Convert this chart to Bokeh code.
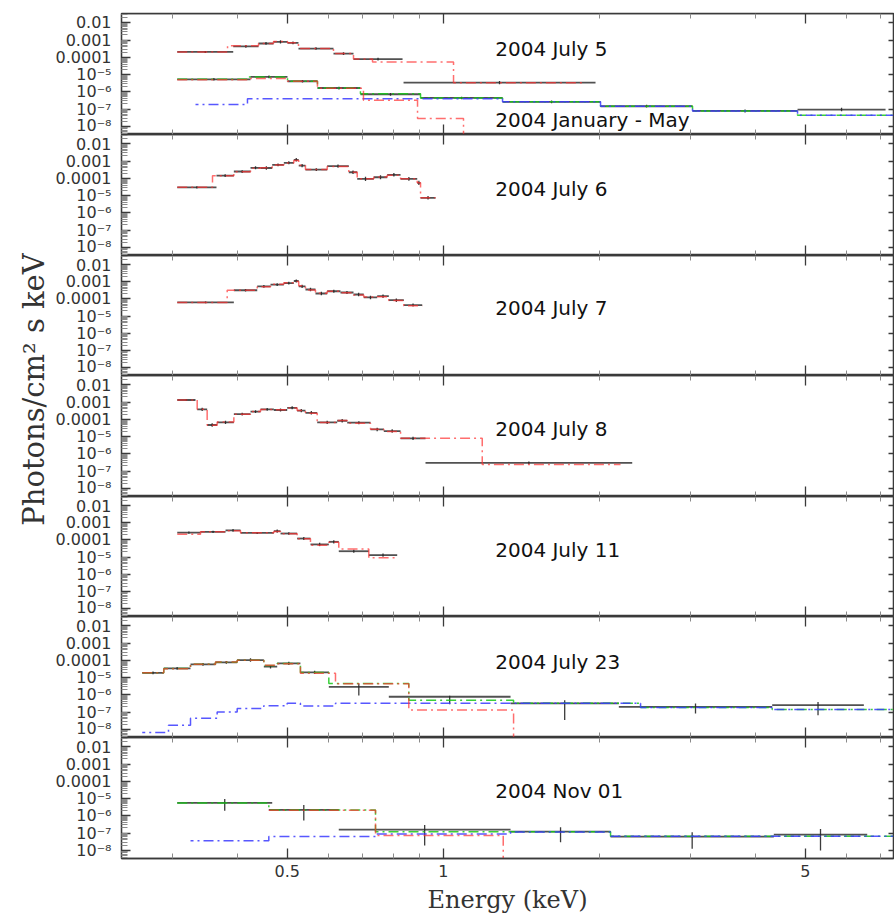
import math
from bokeh.plotting import figure
from bokeh.models import Range1d, LogAxis, FixedTicker, Label
from bokeh.layouts import row, column
from bokeh.embed import file_html
from bokeh.resources import INLINE

# ---------------- ticks ----------------
x_ticks = [0.5, 1, 5]
x_tick_labels = ["0.5", "1", "5"]
x_minor_ticks = [0.3, 0.4, 0.6, 0.7, 0.8, 0.9, 2, 3, 4, 6, 7]
y_ticks = [1e-8, 1e-7, 1e-6, 1e-5, 1e-4, 1e-3, 1e-2]
y_tick_labels = ["10⁻⁸", "10⁻⁷", "10⁻⁶", "10⁻⁵", "0.0001", "0.001", "0.01"]

# ---------------- panel 1 : 2004 July 5 ----------------
jul05_lo = [0.3066, 0.3932, 0.4400, 0.4703, 0.5005, 0.5255, 0.6140, 0.6711, 0.8383]
jul05_hi = [0.3932, 0.4400, 0.4703, 0.5005, 0.5255, 0.6140, 0.6711, 0.8346, 1.9679]
jul05_flux = [2.06e-4, 4.4e-4, 6.4e-4, 7.9e-4, 6.9e-4, 3.25e-4, 1.66e-4, 7.8e-5, 3.4e-6]
jul05_err = [0.06, 0.08, 0.08, 0.09, 0.08, 0.07, 0.08, 0.08, 0.1]
jul05_red_edges = [0.3066, 0.3834, 0.4400, 0.4703, 0.5005, 0.5255, 0.6140, 0.6711, 0.7303, 1.0469, 1.8659]
jul05_red = [2.06e-4, 4.8e-4, 6.4e-4, 8.2e-4, 7.0e-4, 3.3e-4, 1.7e-4, 8.0e-5, 5.4e-5, 3.4e-6]

# ---------------- panel 1 : 2004 January - May ----------------
janmay_lo = [0.3066, 0.4246, 0.5005, 0.5718, 0.6922, 0.9041, 1.3017, 2.0123, 3.0289, 4.8306]
janmay_hi = [0.4246, 0.5005, 0.5718, 0.6922, 0.9041, 1.3017, 2.0123, 3.0289, 4.8306, 7.1432]
janmay_flux = [5.3e-6, 7.3e-6, 4.1e-6, 1.66e-6, 7.2e-7, 4.4e-7, 2.6e-7, 1.45e-7, 7.7e-8, 9.3e-8]
janmay_err = [0.07, 0.08, 0.07, 0.08, 0.08, 0.07, 0.08, 0.08, 0.09, 0.1]
janmay_green_edges = [0.3066, 0.4189, 0.5005, 0.5718, 0.6922, 0.9041, 1.3017, 2.0123, 3.0289, 4.8306, 7.40]
janmay_green = [5.3e-6, 7.3e-6, 4.1e-6, 1.66e-6, 7.8e-7, 4.4e-7, 2.6e-7, 1.45e-7, 7.7e-8, 4.3e-8]
janmay_blue_edges = [0.3325, 0.4189, 1.3017, 2.0123, 3.0289, 4.8306, 7.40]
janmay_blue = [1.8e-7, 4.0e-7, 2.6e-7, 1.45e-7, 7.7e-8, 4.3e-8]
janmay_red_edges = [0.3066, 0.4246, 0.5005, 0.5718, 0.7015, 0.8921, 1.0944, 1.2]
janmay_red = [5.0e-6, 6.0e-6, 4.1e-6, 1.6e-6, 3.2e-7, 2.8e-8, 1e-12]

# ---------------- panel 2 : 2004 July 6 ----------------
jul06_lo = [0.3066, 0.3650, 0.3943, 0.4246, 0.4440, 0.4676, 0.4924, 0.5147, 0.5261, 0.5421,
            0.5971, 0.6573, 0.6823, 0.7345, 0.7796, 0.8272, 0.8909, 0.9041]
jul06_hi = [0.3650, 0.3943, 0.4246, 0.4440, 0.4676, 0.4924, 0.5147, 0.5261, 0.5421, 0.5971,
            0.6573, 0.6823, 0.7345, 0.7796, 0.8272, 0.8909, 0.9041, 0.9663]
jul06_flux = [3.0e-5, 1.46e-4, 2.5e-4, 4.1e-4, 4.0e-4, 6.1e-4, 8.0e-4, 1.19e-3, 5.5e-4, 3.25e-4,
              5.1e-4, 2.26e-4, 9.3e-5, 1.16e-4, 1.6e-4, 9.3e-5, 5.5e-5, 7.4e-6]
jul06_err = [0.06, 0.08, 0.08, 0.09, 0.1, 0.08, 0.09, 0.1, 0.1, 0.08,
             0.09, 0.1, 0.12, 0.11, 0.1, 0.11, 0.12, 0.1]
jul06_red_edges = [0.3066, 0.3586, 0.3943, 0.4246, 0.4440, 0.4676, 0.4924, 0.5147, 0.5261, 0.5421,
                   0.5971, 0.6573, 0.6823, 0.7345, 0.7796, 0.8272, 0.8909, 0.9041, 0.9663]
jul06_red = [3.0e-5, 1.4e-4, 2.4e-4, 3.8e-4, 4.2e-4, 6.0e-4, 7.8e-4, 1.1e-3, 5.8e-4, 3.3e-4,
             4.9e-4, 2.3e-4, 9.5e-5, 1.2e-4, 1.5e-4, 9.5e-5, 5.5e-5, 7.4e-6]

# ---------------- panel 3 : 2004 July 7 ----------------
jul07_lo = [0.3066, 0.3943, 0.4375, 0.4641, 0.4924, 0.5147, 0.5261, 0.5421, 0.5668, 0.5971,
            0.6333, 0.6711, 0.7024, 0.7457, 0.7852, 0.8394]
jul07_hi = [0.3943, 0.4375, 0.4641, 0.4924, 0.5147, 0.5261, 0.5421, 0.5668, 0.5971, 0.6333,
            0.6711, 0.7024, 0.7457, 0.7852, 0.8394, 0.9109]
jul07_flux = [6.3e-5, 3.25e-4, 5.5e-4, 7.0e-4, 8.6e-4, 1.13e-3, 5.5e-4, 3.6e-4, 2.1e-4, 2.85e-4,
              2.4e-4, 1.83e-4, 1.23e-4, 1.46e-4, 8.5e-5, 4.4e-5]
jul07_err = [0.05, 0.07, 0.08, 0.08, 0.08, 0.09, 0.09, 0.1, 0.1, 0.09,
             0.09, 0.1, 0.1, 0.1, 0.1, 0.09]
jul07_red_edges = [0.3066, 0.3828, 0.4375, 0.4641, 0.4924, 0.5147, 0.5261, 0.5421, 0.5668, 0.5971,
                   0.6333, 0.6711, 0.7024, 0.7457, 0.7852, 0.8394, 0.9109]
jul07_red = [6.3e-5, 3.3e-4, 5.3e-4, 7.2e-4, 8.8e-4, 1.05e-3, 6.0e-4, 3.4e-4, 2.2e-4, 2.8e-4,
             2.3e-4, 1.7e-4, 1.3e-4, 1.35e-4, 8.2e-5, 4.0e-5]

# ---------------- panel 4 : 2004 July 8 ----------------
jul08_lo = [0.3066, 0.3350, 0.3502, 0.3661, 0.3943, 0.4246, 0.4440, 0.4710, 0.4998, 0.5224,
            0.5421, 0.5711, 0.6242, 0.6526, 0.7239, 0.7679, 0.8272, 0.9243]
jul08_hi = [0.3325, 0.3502, 0.3661, 0.3943, 0.4246, 0.4440, 0.4710, 0.4998, 0.5224, 0.5421,
            0.5711, 0.6242, 0.6526, 0.7239, 0.7679, 0.8272, 0.9243, 2.3166]
jul08_flux = [1.33e-3, 3.8e-4, 4.7e-5, 6.7e-5, 2.04e-4, 2.8e-4, 3.8e-4, 3.5e-4, 4.7e-4, 3.2e-4,
              2.4e-4, 6.7e-5, 8.3e-5, 6.4e-5, 2.6e-5, 2.1e-5, 7.9e-6, 3.0e-7]
jul08_err = [0.05, 0.1, 0.1, 0.09, 0.08, 0.08, 0.08, 0.09, 0.09, 0.09,
             0.1, 0.09, 0.1, 0.09, 0.1, 0.1, 0.09, 0.08]
jul08_red_edges = [0.3066, 0.3350, 0.3502, 0.3661, 0.3943, 0.4246, 0.4440, 0.4710, 0.4998, 0.5224,
                   0.5421, 0.5711, 0.6242, 0.6526, 0.7239, 0.7679, 0.8272, 1.1894, 2.1993]
jul08_red = [1.33e-3, 3.8e-4, 4.5e-5, 7.0e-5, 2.0e-4, 2.9e-4, 3.7e-4, 3.6e-4, 4.5e-4, 3.3e-4,
             2.3e-4, 6.5e-5, 8.5e-5, 6.0e-5, 2.7e-5, 2.0e-5, 7.9e-6, 2.4e-7]

# ---------------- panel 5 : 2004 July 11 ----------------
jul11_lo = [0.3066, 0.3400, 0.3800, 0.4062, 0.4710, 0.4852, 0.5224, 0.5543, 0.6014, 0.6286, 0.7184]
jul11_hi = [0.3400, 0.3800, 0.4062, 0.4710, 0.4852, 0.5224, 0.5543, 0.6014, 0.6286, 0.7184, 0.8150]
jul11_flux = [2.7e-4, 3.0e-4, 3.7e-4, 2.6e-4, 3.3e-4, 2.4e-4, 1.22e-4, 5.5e-5, 7.8e-5, 2.2e-5, 1.3e-5]
jul11_err = [0.06, 0.07, 0.08, 0.06, 0.1, 0.08, 0.09, 0.1, 0.1, 0.09, 0.1]
jul11_red_edges = [0.3066, 0.3400, 0.3800, 0.4062, 0.4710, 0.4852, 0.5224, 0.5543, 0.6014, 0.6286,
                   0.7184, 0.8150]
jul11_red = [2.2e-4, 3.0e-4, 3.5e-4, 2.7e-4, 3.1e-4, 2.3e-4, 1.2e-4, 5.0e-5, 7.5e-5, 3.0e-5, 9.0e-6]

# ---------------- panel 6 : 2004 July 23 ----------------
jul23_lo = [0.2624, 0.2888, 0.3252, 0.3634, 0.4002, 0.4505, 0.4781, 0.5301, 0.6014, 0.7852,
            1.3489, 2.1827, 4.3158]
jul23_hi = [0.2888, 0.3252, 0.3634, 0.4002, 0.4505, 0.4781, 0.5301, 0.6014, 0.7852, 1.3489,
            2.1827, 4.3158, 6.4863]
jul23_flux = [1.9e-5, 3.4e-5, 5.9e-5, 7.7e-5, 1.04e-4, 4.3e-5, 6.7e-5, 2.0e-5, 2.9e-6, 7.7e-7,
              3.2e-7, 2.0e-7, 2.5e-7]
jul23_err_up = [0.08, 0.08, 0.08, 0.08, 0.1, 0.1, 0.1, 0.1, 0.2, 0.06, 0.18, 0.2, 0.19]
jul23_err_dn = [0.08, 0.08, 0.08, 0.08, 0.1, 0.1, 0.1, 0.1, 0.5, 0.44, 0.97, 0.38, 0.58]
jul23_green_edges = [0.2624, 0.2888, 0.3252, 0.3634, 0.4002, 0.4505, 0.4781, 0.5301, 0.6014, 0.8581,
                     1.3671, 2.4040, 4.3158, 7.40]
jul23_green = [1.9e-5, 3.4e-5, 5.9e-5, 7.7e-5, 1.0e-4, 5.0e-5, 6.5e-5, 2.0e-5, 4.6e-6, 4.9e-7,
               3.2e-7, 1.85e-7, 1.4e-7]
jul23_red_edges = [0.2624, 0.2888, 0.3252, 0.3634, 0.4002, 0.4505, 0.4781, 0.5301, 0.6195, 0.8581,
                   1.3671, 1.5]
jul23_red = [1.9e-5, 3.3e-5, 6.0e-5, 7.9e-5, 1.0e-4, 5.2e-5, 6.4e-5, 1.8e-5, 4.4e-6, 1.3e-7, 1e-12]
jul23_blue_edges = [0.2624, 0.2949, 0.3252, 0.3661, 0.4002, 0.4505, 0.4998, 0.5301, 0.6195, 2.4040,
                    4.3158, 7.40]
jul23_blue = [6.5e-9, 1.7e-8, 4.3e-8, 1.0e-7, 1.6e-7, 2.3e-7, 3.2e-7, 2.2e-7, 3.2e-7, 1.85e-7, 1.4e-7]

# ---------------- panel 7 : 2004 Nov 01 ----------------
nov01_lo = [0.3066, 0.4606, 0.6286, 1.3489, 2.1038, 4.3467]
nov01_hi = [0.4676, 0.6286, 1.3489, 2.1038, 4.3467, 6.5840]
nov01_flux = [5.6e-6, 2.2e-6, 1.58e-7, 1.2e-7, 6.2e-8, 8.1e-8]
nov01_err_up = [0.23, 0.29, 0.27, 0.25, 0.25, 0.33]
nov01_err_dn = [0.45, 0.62, 0.93, 0.62, 0.71, 0.93]
nov01_green_edges = [0.3066, 0.4606, 0.7401, 2.1038, 7.40]
nov01_green = [5.6e-6, 2.2e-6, 1.2e-7, 6.5e-8]
nov01_red_edges = [0.4606, 0.7401, 1.3057, 1.5]
nov01_red = [2.1e-6, 7.1e-8, 1e-12]
nov01_blue_edges = [0.3252, 0.4606, 0.7401, 1.3489, 2.1038, 7.40]
nov01_blue = [3.6e-8, 6.2e-8, 8.9e-8, 1.15e-7, 6.5e-8]

# ---------------- styling ----------------
AXIS_COLOR = "#3a3a3a"
DATA_COLOR = "#262626"
RED, GREEN, BLUE = "#ff3030", "#18c818", "#3a3aff"
DASH = "10 4 2 4"
E_MIN, E_MAX = 0.2393, 7.40
Y_MIN, Y_MAX = 10 ** -8.48, 10 ** -1.453
y_minor = [m * 10.0 ** k for k in range(-9, -1) for m in range(2, 10)
           if Y_MIN < m * 10.0 ** k < Y_MAX]

MODEL_STYLE = {RED: dict(alpha=0.7, offset=0), GREEN: dict(alpha=0.85, offset=0),
               BLUE: dict(alpha=0.85, offset=7)}

panels = [
    dict(data=[(jul05_lo, jul05_hi, jul05_flux, jul05_err, jul05_err),
               (janmay_lo, janmay_hi, janmay_flux, janmay_err, janmay_err)],
         models=[(janmay_green_edges, janmay_green, GREEN), (janmay_blue_edges, janmay_blue, BLUE),
                 (janmay_red_edges, janmay_red, RED), (jul05_red_edges, jul05_red, RED)],
         labels=[("2004 July 5", 2.95e-4), ("2004 January - May", 2.2e-8)]),
    dict(data=[(jul06_lo, jul06_hi, jul06_flux, jul06_err, jul06_err)],
         models=[(jul06_red_edges, jul06_red, RED)],
         labels=[("2004 July 6", 2.55e-5)]),
    dict(data=[(jul07_lo, jul07_hi, jul07_flux, jul07_err, jul07_err)],
         models=[(jul07_red_edges, jul07_red, RED)],
         labels=[("2004 July 7", 2.9e-5)]),
    dict(data=[(jul08_lo, jul08_hi, jul08_flux, jul08_err, jul08_err)],
         models=[(jul08_red_edges, jul08_red, RED)],
         labels=[("2004 July 8", 2.7e-5)]),
    dict(data=[(jul11_lo, jul11_hi, jul11_flux, jul11_err, jul11_err)],
         models=[(jul11_red_edges, jul11_red, RED)],
         labels=[("2004 July 11", 2.55e-5)]),
    dict(data=[(jul23_lo, jul23_hi, jul23_flux, jul23_err_up, jul23_err_dn)],
         models=[(jul23_green_edges, jul23_green, GREEN), (jul23_blue_edges, jul23_blue, BLUE),
                 (jul23_red_edges, jul23_red, RED)],
         labels=[("2004 July 23", 8.0e-5)]),
    dict(data=[(nov01_lo, nov01_hi, nov01_flux, nov01_err_up, nov01_err_dn)],
         models=[(nov01_green_edges, nov01_green, GREEN), (nov01_blue_edges, nov01_blue, BLUE),
                 (nov01_red_edges, nov01_red, RED)],
         labels=[("2004 Nov 01", 2.9e-5)]),
]

frame_heights = [121, 121, 120, 121, 120, 121, 121]
TOP_BORDER, BOTTOM_BORDER = 13, 62


def style_axis(ax, major_len, minor_len):
    ax.axis_line_color = AXIS_COLOR
    ax.axis_line_width = 1.3
    ax.major_tick_line_color = AXIS_COLOR
    ax.major_tick_line_width = 1.3
    ax.minor_tick_line_color = "#8a8a8a"
    ax.minor_tick_line_width = 1
    ax.major_tick_in = major_len
    ax.major_tick_out = 0
    ax.minor_tick_in = minor_len
    ax.minor_tick_out = 0


x_range = Range1d(E_MIN, E_MAX)
figs = []
n = len(panels)
for i, pan in enumerate(panels):
    first, last = i == 0, i == n - 1
    h = frame_heights[i] + (TOP_BORDER if first else 0) + (BOTTOM_BORDER if last else 0)
    p = figure(width=844, height=h, x_axis_type="log", y_axis_type="log",
               x_range=x_range, y_range=Range1d(Y_MIN, Y_MAX),
               x_axis_location=None, y_axis_location="left",
               output_backend="svg", toolbar_location=None,
               min_border_left=71, min_border_right=1,
               min_border_top=TOP_BORDER if first else 0,
               min_border_bottom=BOTTOM_BORDER if last else 0)
    p.outline_line_color = AXIS_COLOR
    p.outline_line_width = 1.3
    p.background_fill_color = "white"
    p.border_fill_color = "white"
    for g in p.grid:
        g.visible = False

    # left y axis with labels
    ya = p.yaxis[0]
    ya.ticker = FixedTicker(ticks=y_ticks, minor_ticks=y_minor)
    ya.major_label_overrides = dict(zip(y_ticks, y_tick_labels))
    ya.major_label_text_font = "DejaVu Sans"
    ya.major_label_text_font_size = "16px"
    ya.major_label_text_color = "#333333"
    ya.major_label_standoff = 10
    style_axis(ya, 9, 6)

    # right y axis (ticks only)
    ra = LogAxis(ticker=FixedTicker(ticks=y_ticks, minor_ticks=[]), fixed_location=E_MAX)
    ra.major_label_overrides = {t: "" for t in y_ticks}
    style_axis(ra, 5, 0)
    p.add_layout(ra, "right")

    # top x axis (ticks only)
    ta = LogAxis(ticker=FixedTicker(ticks=x_ticks, minor_ticks=x_minor_ticks), fixed_location=Y_MAX)
    ta.major_label_overrides = {t: "" for t in x_ticks}
    style_axis(ta, 10, 5)
    p.add_layout(ta, "above")

    # bottom x axis
    if last:
        ba = LogAxis(ticker=FixedTicker(ticks=x_ticks, minor_ticks=x_minor_ticks),
                     axis_label="Energy (keV)")
        ba.major_label_overrides = dict(zip(x_ticks, x_tick_labels))
        ba.major_label_text_font = "DejaVu Sans"
        ba.major_label_text_font_size = "16px"
        ba.major_label_text_color = "#333333"
        ba.major_label_standoff = 6
        ba.axis_label_standoff = 6
        ba.axis_label_text_font = "DejaVu Serif"
        ba.axis_label_text_font_size = "24px"
        ba.axis_label_text_font_style = "normal"
        ba.axis_label_text_color = "#333333"
    else:
        ba = LogAxis(ticker=FixedTicker(ticks=x_ticks, minor_ticks=x_minor_ticks), fixed_location=Y_MIN)
        ba.major_label_overrides = {t: "" for t in x_ticks}
    style_axis(ba, 10, 5)
    p.add_layout(ba, "below")

    # data bins with error bars
    for lo, hi, flux, up, dn in pan["data"]:
        p.segment(x0=lo, y0=flux, x1=hi, y1=flux, line_color=DATA_COLOR,
                  line_width=1.8, line_alpha=0.8)
        xc = [math.sqrt(a * b) for a, b in zip(lo, hi)]
        y_top = [f * 10 ** u for f, u in zip(flux, up)]
        y_bot = [f * 10 ** -d for f, d in zip(flux, dn)]
        p.segment(x0=xc, y0=y_bot, x1=xc, y1=y_top, line_color=DATA_COLOR,
                  line_width=1.3, line_alpha=0.9)

    # model curves
    for edges, vals, color in pan["models"]:
        st = MODEL_STYLE[color]
        p.step(x=edges, y=list(vals) + [vals[-1]], mode="after", line_color=color,
               line_dash=DASH, line_dash_offset=st["offset"], line_width=1.5,
               line_alpha=st["alpha"])

    for text, yv in pan["labels"]:
        p.add_layout(Label(x=1.26, y=yv, text=text, text_font="DejaVu Sans",
                           text_font_size="20px", text_baseline="middle", text_color="#111111"))
    figs.append(p)

# y-axis title in a narrow side figure
tf = figure(width=50, height=920, x_range=Range1d(0, 50), y_range=Range1d(0, 920),
            x_axis_location=None, y_axis_location=None, output_backend="svg",
            toolbar_location=None, min_border=0, outline_line_color=None)
for g in tf.grid:
    g.visible = False
tf.add_layout(Label(x=33, y=920 - 389, text="Photons/cm² s keV", angle=math.pi / 2,
                    text_align="center", text_baseline="middle", text_font="DejaVu Serif",
                    text_font_size="29px", text_color="#333333"))

layout = row(tf, column(*figs))
open("out.html", "w").write(file_html(layout, INLINE))
